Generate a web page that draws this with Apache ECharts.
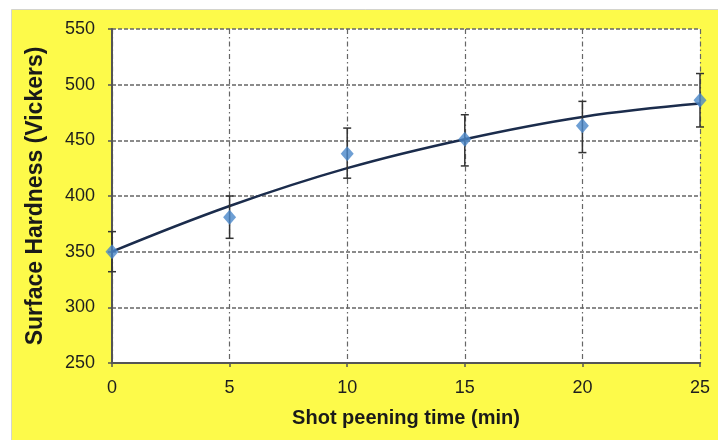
<!DOCTYPE html>
<html>
<head>
<meta charset="utf-8">
<script src="https://cdn.jsdelivr.net/npm/echarts@6/dist/echarts.min.js"></script>
<style>html,body{margin:0;padding:0;background:#fff;}#c{width:718px;height:440px;}</style>
</head>
<body>
<div id="c"></div>
<script>
// Data
var times = [0, 5, 10, 15, 20, 25];
var hardness = [350, 381, 438, 451, 463, 486];
var errLow = [332, 362, 416, 427, 439, 462];
var errHigh = [368, 400, 461, 473, 485, 510];
var trend = [350, 391, 425, 451, 471, 483];
var xTicks = [0, 5, 10, 15, 20, 25];
var yTicks = [250, 300, 350, 400, 450, 500, 550];

var chart = echarts.init(document.getElementById('c'), null, {renderer: 'canvas'});
var font = '"Liberation Sans", Arial, sans-serif';

var pts = times.map(function (t, i) { return [t, hardness[i]]; });
var trendPts = times.map(function (t, i) { return [t, trend[i]]; });
var errPts = times.map(function (t, i) { return [t, errLow[i], errHigh[i]]; });

chart.setOption({
  animation: false,
  backgroundColor: '#ffffff',
  graphic: [{
    type: 'rect', z: -10, silent: true,
    shape: {x: 11.5, y: 9.5, width: 720, height: 440},
    style: {fill: '#fdfa4a', stroke: '#d4d4cc', lineWidth: 1}
  }],
  grid: {left: 112, right: 18, top: 29, bottom: 77, show: true, backgroundColor: '#ffffff', borderWidth: 0},
  xAxis: {
    type: 'value', min: xTicks[0], max: xTicks[xTicks.length - 1], interval: 5,
    name: 'Shot peening time (min)', nameLocation: 'middle', nameGap: 45,
    nameTextStyle: {fontFamily: font, fontSize: 20, fontWeight: 'bold', color: '#1a1a1a'},
    axisLine: {show: true, lineStyle: {color: '#555', width: 2}},
    axisTick: {show: true, length: 4, lineStyle: {color: '#555', width: 1.5}},
    axisLabel: {fontFamily: font, fontSize: 18, color: '#1e1e1e', margin: 16},
    splitLine: {show: true, lineStyle: {color: '#666', width: 1.2, type: [5, 3, 1.5, 3]}}
  },
  yAxis: {
    type: 'value', min: yTicks[0], max: yTicks[yTicks.length - 1], interval: 50,
    name: 'Surface Hardness (Vickers)', nameLocation: 'middle', nameGap: 65, nameRotate: 90,
    nameTextStyle: {fontFamily: font, fontSize: 23, fontWeight: 'bold', color: '#1a1a1a'},
    axisLine: {show: true, lineStyle: {color: '#555', width: 2}},
    axisTick: {show: true, length: 4, lineStyle: {color: '#555', width: 1.5}},
    axisLabel: {fontFamily: font, fontSize: 18, color: '#1e1e1e', margin: 17},
    splitLine: {show: true, lineStyle: {color: '#666', width: 1.5, type: [4, 2]}}
  },
  series: [
    {
      type: 'line', data: trendPts, smooth: 0.4, showSymbol: false, z: 3,
      lineStyle: {color: '#1b2c4c', width: 2.5}
    },
    {
      type: 'custom', data: errPts, z: 4,
      renderItem: function (params, api) {
        var x = api.value(0);
        var lo = api.coord([x, api.value(1)]);
        var hi = api.coord([x, api.value(2)]);
        var hw = 4;
        var st = {stroke: '#333', lineWidth: 1.5};
        return {
          type: 'group',
          children: [
            {type: 'line', shape: {x1: lo[0], y1: lo[1], x2: hi[0], y2: hi[1]}, style: st},
            {type: 'line', shape: {x1: lo[0] - hw, y1: lo[1], x2: lo[0] + hw, y2: lo[1]}, style: st},
            {type: 'line', shape: {x1: hi[0] - hw, y1: hi[1], x2: hi[0] + hw, y2: hi[1]}, style: st}
          ]
        };
      }
    },
    {
      type: 'scatter', data: pts, symbol: 'diamond', symbolSize: [13, 15], z: 5,
      itemStyle: {color: '#4a87c9'}
    }
  ]
});
</script>
</body>
</html>
